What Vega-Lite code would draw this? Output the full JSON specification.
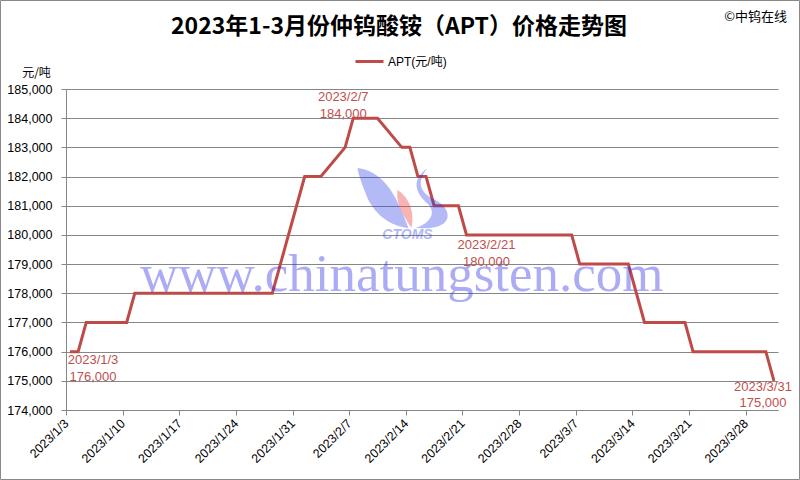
{
  "$schema": "https://vega.github.io/schema/vega-lite/v6.json",
  "width": 712,
  "height": 321,
  "autosize": {"type": "none"},
  "padding": {"left": 66, "top": 89, "right": 22, "bottom": 70},
  "background": "white",
  "title": {
    "text": "2023年1-3月份仲钨酸铵（APT）价格走势图",
    "font": "Noto Sans CJK SC",
    "fontSize": 23,
    "fontWeight": "bold",
    "color": "#000000",
    "anchor": "middle",
    "dx": -23,
    "offset": -39
  },
  "config": {
    "view": {"stroke": null},
    "font": "Liberation Sans, Noto Sans CJK SC",
    "numberFormat": ",.0f",
    "timeFormat": "%Y/%-m/%-d",
    "axis": {
      "labelFontSize": 12.5,
      "labelColor": "#000000",
      "labelOverlap": false,
      "labelFlush": false,
      "domainColor": "#868686",
      "tickColor": "#868686",
      "tickSize": 5,
      "gridColor": "#868686",
      "gridWidth": 1
    },
    "axisX": {
      "labelAngle": -45,
      "labelAlign": "right",
      "labelBaseline": "middle",
      "labelPadding": 6,
      "grid": false
    },
    "axisY": {
      "labelPadding": 9,
      "grid": true,
      "titleAngle": 0,
      "titleX": -30,
      "titleY": -17,
      "titleAlign": "center",
      "titleBaseline": "middle",
      "titleFont": "Noto Sans CJK SC",
      "titleFontWeight": "normal",
      "titleFontSize": 12,
      "titleColor": "#000000"
    }
  },
  "data": {
    "format": {"parse": {"date": "date"}},
    "values": [
      {"date": "2023-01-03T12:00", "price": 176000},
      {"date": "2023-01-04T12:00", "price": 176000},
      {"date": "2023-01-05T12:00", "price": 177000},
      {"date": "2023-01-06T12:00", "price": 177000},
      {"date": "2023-01-09T12:00", "price": 177000},
      {"date": "2023-01-10T12:00", "price": 177000},
      {"date": "2023-01-11T12:00", "price": 178000},
      {"date": "2023-01-12T12:00", "price": 178000},
      {"date": "2023-01-13T12:00", "price": 178000},
      {"date": "2023-01-16T12:00", "price": 178000},
      {"date": "2023-01-17T12:00", "price": 178000},
      {"date": "2023-01-18T12:00", "price": 178000},
      {"date": "2023-01-19T12:00", "price": 178000},
      {"date": "2023-01-20T12:00", "price": 178000},
      {"date": "2023-01-28T12:00", "price": 178000},
      {"date": "2023-01-29T12:00", "price": 179000},
      {"date": "2023-01-30T12:00", "price": 180000},
      {"date": "2023-01-31T12:00", "price": 181000},
      {"date": "2023-02-01T12:00", "price": 182000},
      {"date": "2023-02-02T12:00", "price": 182000},
      {"date": "2023-02-03T12:00", "price": 182000},
      {"date": "2023-02-06T12:00", "price": 183000},
      {"date": "2023-02-07T12:00", "price": 184000},
      {"date": "2023-02-08T12:00", "price": 184000},
      {"date": "2023-02-09T12:00", "price": 184000},
      {"date": "2023-02-10T12:00", "price": 184000},
      {"date": "2023-02-13T12:00", "price": 183000},
      {"date": "2023-02-14T12:00", "price": 183000},
      {"date": "2023-02-15T12:00", "price": 182000},
      {"date": "2023-02-16T12:00", "price": 182000},
      {"date": "2023-02-17T12:00", "price": 181000},
      {"date": "2023-02-20T12:00", "price": 181000},
      {"date": "2023-02-21T12:00", "price": 180000},
      {"date": "2023-02-22T12:00", "price": 180000},
      {"date": "2023-02-23T12:00", "price": 180000},
      {"date": "2023-02-24T12:00", "price": 180000},
      {"date": "2023-02-27T12:00", "price": 180000},
      {"date": "2023-02-28T12:00", "price": 180000},
      {"date": "2023-03-01T12:00", "price": 180000},
      {"date": "2023-03-02T12:00", "price": 180000},
      {"date": "2023-03-03T12:00", "price": 180000},
      {"date": "2023-03-06T12:00", "price": 180000},
      {"date": "2023-03-07T12:00", "price": 179000},
      {"date": "2023-03-08T12:00", "price": 179000},
      {"date": "2023-03-09T12:00", "price": 179000},
      {"date": "2023-03-10T12:00", "price": 179000},
      {"date": "2023-03-13T12:00", "price": 179000},
      {"date": "2023-03-14T12:00", "price": 178000},
      {"date": "2023-03-15T12:00", "price": 177000},
      {"date": "2023-03-16T12:00", "price": 177000},
      {"date": "2023-03-17T12:00", "price": 177000},
      {"date": "2023-03-20T12:00", "price": 177000},
      {"date": "2023-03-21T12:00", "price": 176000},
      {"date": "2023-03-22T12:00", "price": 176000},
      {"date": "2023-03-23T12:00", "price": 176000},
      {"date": "2023-03-24T12:00", "price": 176000},
      {"date": "2023-03-27T12:00", "price": 176000},
      {"date": "2023-03-28T12:00", "price": 176000},
      {"date": "2023-03-29T12:00", "price": 176000},
      {"date": "2023-03-30T12:00", "price": 176000},
      {"date": "2023-03-31T12:00", "price": 175000}
    ]
  },
  "transform": [
    {"calculate": "timeFormat(datum.date, '%Y/%-m/%-d') + '\\n' + format(datum.price, ',')", "as": "label"}
  ],
  "layer": [
    {
      "data": {"values": [{}]},
      "mark": {"type": "rect", "x": -65.5, "y": -88.5, "x2": {"expr": "width + 21.5"}, "y2": {"expr": "height + 69.5"}, "fill": "transparent", "stroke": "#898989", "strokeWidth": 1},
      "encoding": {}
    },
    {
      "mark": {"type": "line", "strokeWidth": 3, "color": "#BE4B48"},
      "encoding": {
        "x": {
          "field": "date",
          "type": "temporal",
          "scale": {"domain": [{"year": 2023, "month": 1, "date": 3}, {"year": 2023, "month": 4, "date": 1}]},
          "axis": {"title": null, "format": "%Y/%-m/%-d", "values": [{"year": 2023, "month": 1, "date": 3}, {"year": 2023, "month": 1, "date": 10}, {"year": 2023, "month": 1, "date": 17}, {"year": 2023, "month": 1, "date": 24}, {"year": 2023, "month": 1, "date": 31}, {"year": 2023, "month": 2, "date": 7}, {"year": 2023, "month": 2, "date": 14}, {"year": 2023, "month": 2, "date": 21}, {"year": 2023, "month": 2, "date": 28}, {"year": 2023, "month": 3, "date": 7}, {"year": 2023, "month": 3, "date": 14}, {"year": 2023, "month": 3, "date": 21}, {"year": 2023, "month": 3, "date": 28}]}
        },
        "y": {
          "field": "price",
          "type": "quantitative",
          "scale": {"domain": [174000, 185000], "nice": false, "zero": false},
          "axis": {"title": "元/吨", "format": ",.0f", "values": [174000, 175000, 176000, 177000, 178000, 179000, 180000, 181000, 182000, 183000, 184000, 185000]}
        },
        "color": {
          "datum": "APT(元/吨)",
          "type": "nominal",
          "scale": {"range": ["#BE4B48"]},
          "legend": {
            "orient": "none",
            "legendX": 288,
            "legendY": -43,
            "title": null,
            "padding": 0,
            "symbolType": "stroke",
            "symbolStrokeWidth": 3,
            "symbolSize": 784,
            "labelFontSize": 12,
            "labelColor": "#000000",
            "labelFont": "Liberation Sans, Noto Sans CJK SC",
            "labelOffset": 3
          }
        }
      }
    },
    {
      "data": {"values": [{}]},
      "mark": {"type": "point", "shape": "M -0.96 -0.6 C -0.6 -0.56 -0.36 -0.3 -0.2 0 C -0.08 0.24 0 0.44 0.06 0.6 C -0.4 0.56 -0.7 0.2 -0.8 -0.1 C -0.88 -0.3 -0.94 -0.48 -0.96 -0.6 Z", "size": 10000, "filled": true, "color": "#2838e6", "opacity": 0.35, "strokeWidth": 0},
      "encoding": {
        "x": {"datum": {"year": 2023, "month": 2, "date": 13, "hours": 23}, "type": "temporal", "axis": {"title": null, "format": "%Y/%-m/%-d", "values": [{"year": 2023, "month": 1, "date": 3}, {"year": 2023, "month": 1, "date": 10}, {"year": 2023, "month": 1, "date": 17}, {"year": 2023, "month": 1, "date": 24}, {"year": 2023, "month": 1, "date": 31}, {"year": 2023, "month": 2, "date": 7}, {"year": 2023, "month": 2, "date": 14}, {"year": 2023, "month": 2, "date": 21}, {"year": 2023, "month": 2, "date": 28}, {"year": 2023, "month": 3, "date": 7}, {"year": 2023, "month": 3, "date": 14}, {"year": 2023, "month": 3, "date": 21}, {"year": 2023, "month": 3, "date": 28}]}},
        "y": {"datum": 181267, "type": "quantitative", "axis": {"title": "元/吨", "format": ",.0f", "values": [174000, 175000, 176000, 177000, 178000, 179000, 180000, 181000, 182000, 183000, 184000, 185000]}}
      }
    },
    {
      "data": {"values": [{}]},
      "mark": {"type": "point", "shape": "M -0.16 -0.16 C 0.04 -0.04 0.2 0.24 0.12 0.6 C 0 0.4 -0.2 0.16 -0.16 -0.16 Z", "size": 10000, "filled": true, "color": "#ee4444", "opacity": 0.4, "strokeWidth": 0},
      "encoding": {
        "x": {"datum": {"year": 2023, "month": 2, "date": 13, "hours": 23}, "type": "temporal", "axis": {"title": null, "format": "%Y/%-m/%-d", "values": [{"year": 2023, "month": 1, "date": 3}, {"year": 2023, "month": 1, "date": 10}, {"year": 2023, "month": 1, "date": 17}, {"year": 2023, "month": 1, "date": 24}, {"year": 2023, "month": 1, "date": 31}, {"year": 2023, "month": 2, "date": 7}, {"year": 2023, "month": 2, "date": 14}, {"year": 2023, "month": 2, "date": 21}, {"year": 2023, "month": 2, "date": 28}, {"year": 2023, "month": 3, "date": 7}, {"year": 2023, "month": 3, "date": 14}, {"year": 2023, "month": 3, "date": 21}, {"year": 2023, "month": 3, "date": 28}]}},
        "y": {"datum": 181267, "type": "quantitative", "axis": {"title": "元/吨", "format": ",.0f", "values": [174000, 175000, 176000, 177000, 178000, 179000, 180000, 181000, 182000, 183000, 184000, 185000]}}
      }
    },
    {
      "data": {"values": [{}]},
      "mark": {"type": "point", "shape": "M 0.44 -0.6 C 0.2 -0.3 0.3 -0.1 0.6 0.04 C 0.9 0.2 0.95 0.5 0.6 0.58 C 0.45 0.62 0.3 0.6 0.2 0.6 C 0.5 0.5 0.62 0.3 0.45 0.12 C 0.2 -0.1 0.1 -0.35 0.44 -0.6 Z", "size": 10000, "filled": true, "color": "#2838e6", "opacity": 0.35, "strokeWidth": 0},
      "encoding": {
        "x": {"datum": {"year": 2023, "month": 2, "date": 13, "hours": 23}, "type": "temporal", "axis": {"title": null, "format": "%Y/%-m/%-d", "values": [{"year": 2023, "month": 1, "date": 3}, {"year": 2023, "month": 1, "date": 10}, {"year": 2023, "month": 1, "date": 17}, {"year": 2023, "month": 1, "date": 24}, {"year": 2023, "month": 1, "date": 31}, {"year": 2023, "month": 2, "date": 7}, {"year": 2023, "month": 2, "date": 14}, {"year": 2023, "month": 2, "date": 21}, {"year": 2023, "month": 2, "date": 28}, {"year": 2023, "month": 3, "date": 7}, {"year": 2023, "month": 3, "date": 14}, {"year": 2023, "month": 3, "date": 21}, {"year": 2023, "month": 3, "date": 28}]}},
        "y": {"datum": 181267, "type": "quantitative", "axis": {"title": "元/吨", "format": ",.0f", "values": [174000, 175000, 176000, 177000, 178000, 179000, 180000, 181000, 182000, 183000, 184000, 185000]}}
      }
    },
    {
      "data": {"values": [{}]},
      "mark": {"type": "text", "text": "CTOMS", "font": "Liberation Sans", "fontSize": 14, "fontWeight": "bold", "fontStyle": "italic", "color": "#2838e6", "opacity": 0.35, "align": "center", "baseline": "middle"},
      "encoding": {
        "x": {"datum": {"year": 2023, "month": 2, "date": 14, "hours": 5}, "type": "temporal", "axis": {"title": null, "format": "%Y/%-m/%-d", "values": [{"year": 2023, "month": 1, "date": 3}, {"year": 2023, "month": 1, "date": 10}, {"year": 2023, "month": 1, "date": 17}, {"year": 2023, "month": 1, "date": 24}, {"year": 2023, "month": 1, "date": 31}, {"year": 2023, "month": 2, "date": 7}, {"year": 2023, "month": 2, "date": 14}, {"year": 2023, "month": 2, "date": 21}, {"year": 2023, "month": 2, "date": 28}, {"year": 2023, "month": 3, "date": 7}, {"year": 2023, "month": 3, "date": 14}, {"year": 2023, "month": 3, "date": 21}, {"year": 2023, "month": 3, "date": 28}]}},
        "y": {"datum": 180000, "type": "quantitative", "axis": {"title": "元/吨", "format": ",.0f", "values": [174000, 175000, 176000, 177000, 178000, 179000, 180000, 181000, 182000, 183000, 184000, 185000]}}
      }
    },
    {
      "data": {"values": [{}]},
      "mark": {"type": "text", "text": "www.chinatungsten.com", "font": "Liberation Serif", "fontSize": 53, "color": "#2828e6", "opacity": 0.38, "align": "center", "baseline": "alphabetic"},
      "encoding": {
        "x": {"datum": {"year": 2023, "month": 2, "date": 13, "hours": 12}, "type": "temporal", "axis": {"title": null, "format": "%Y/%-m/%-d", "values": [{"year": 2023, "month": 1, "date": 3}, {"year": 2023, "month": 1, "date": 10}, {"year": 2023, "month": 1, "date": 17}, {"year": 2023, "month": 1, "date": 24}, {"year": 2023, "month": 1, "date": 31}, {"year": 2023, "month": 2, "date": 7}, {"year": 2023, "month": 2, "date": 14}, {"year": 2023, "month": 2, "date": 21}, {"year": 2023, "month": 2, "date": 28}, {"year": 2023, "month": 3, "date": 7}, {"year": 2023, "month": 3, "date": 14}, {"year": 2023, "month": 3, "date": 21}, {"year": 2023, "month": 3, "date": 28}]}},
        "y": {"datum": 178080, "type": "quantitative", "axis": {"title": "元/吨", "format": ",.0f", "values": [174000, 175000, 176000, 177000, 178000, 179000, 180000, 181000, 182000, 183000, 184000, 185000]}}
      }
    },
    {
      "data": {"values": [{}]},
      "mark": {"type": "text", "text": "©中钨在线", "font": "Noto Sans CJK SC", "fontSize": 13, "color": "#000000", "align": "right", "baseline": "middle", "dx": 9, "dy": -72},
      "encoding": {
        "x": {"datum": {"year": 2023, "month": 4, "date": 1}, "type": "temporal", "axis": {"title": null, "format": "%Y/%-m/%-d", "values": [{"year": 2023, "month": 1, "date": 3}, {"year": 2023, "month": 1, "date": 10}, {"year": 2023, "month": 1, "date": 17}, {"year": 2023, "month": 1, "date": 24}, {"year": 2023, "month": 1, "date": 31}, {"year": 2023, "month": 2, "date": 7}, {"year": 2023, "month": 2, "date": 14}, {"year": 2023, "month": 2, "date": 21}, {"year": 2023, "month": 2, "date": 28}, {"year": 2023, "month": 3, "date": 7}, {"year": 2023, "month": 3, "date": 14}, {"year": 2023, "month": 3, "date": 21}, {"year": 2023, "month": 3, "date": 28}]}},
        "y": {"datum": 185000, "type": "quantitative", "axis": {"title": "元/吨", "format": ",.0f", "values": [174000, 175000, 176000, 177000, 178000, 179000, 180000, 181000, 182000, 183000, 184000, 185000]}}
      }
    },
    {
      "transform": [{"filter": "month(datum.date) == 0 && date(datum.date) == 3"}],
      "mark": {"type": "text", "lineBreak": "\n", "lineHeight": 17, "align": "center", "baseline": "middle", "dx": 23, "dy": 8.2, "fontSize": 13, "color": "#C0504D"},
      "encoding": {
        "x": {"field": "date", "type": "temporal", "axis": {"title": null, "format": "%Y/%-m/%-d", "values": [{"year": 2023, "month": 1, "date": 3}, {"year": 2023, "month": 1, "date": 10}, {"year": 2023, "month": 1, "date": 17}, {"year": 2023, "month": 1, "date": 24}, {"year": 2023, "month": 1, "date": 31}, {"year": 2023, "month": 2, "date": 7}, {"year": 2023, "month": 2, "date": 14}, {"year": 2023, "month": 2, "date": 21}, {"year": 2023, "month": 2, "date": 28}, {"year": 2023, "month": 3, "date": 7}, {"year": 2023, "month": 3, "date": 14}, {"year": 2023, "month": 3, "date": 21}, {"year": 2023, "month": 3, "date": 28}]}},
        "y": {"field": "price", "type": "quantitative", "axis": {"title": "元/吨", "format": ",.0f", "values": [174000, 175000, 176000, 177000, 178000, 179000, 180000, 181000, 182000, 183000, 184000, 185000]}},
        "text": {"field": "label"}
      }
    },
    {
      "transform": [{"filter": "month(datum.date) == 1 && date(datum.date) == 7"}],
      "mark": {"type": "text", "lineBreak": "\n", "lineHeight": 17, "align": "center", "baseline": "middle", "dx": -10, "dy": -21.5, "fontSize": 13, "color": "#C0504D"},
      "encoding": {
        "x": {"field": "date", "type": "temporal", "axis": {"title": null, "format": "%Y/%-m/%-d", "values": [{"year": 2023, "month": 1, "date": 3}, {"year": 2023, "month": 1, "date": 10}, {"year": 2023, "month": 1, "date": 17}, {"year": 2023, "month": 1, "date": 24}, {"year": 2023, "month": 1, "date": 31}, {"year": 2023, "month": 2, "date": 7}, {"year": 2023, "month": 2, "date": 14}, {"year": 2023, "month": 2, "date": 21}, {"year": 2023, "month": 2, "date": 28}, {"year": 2023, "month": 3, "date": 7}, {"year": 2023, "month": 3, "date": 14}, {"year": 2023, "month": 3, "date": 21}, {"year": 2023, "month": 3, "date": 28}]}},
        "y": {"field": "price", "type": "quantitative", "axis": {"title": "元/吨", "format": ",.0f", "values": [174000, 175000, 176000, 177000, 178000, 179000, 180000, 181000, 182000, 183000, 184000, 185000]}},
        "text": {"field": "label"}
      }
    },
    {
      "transform": [{"filter": "month(datum.date) == 1 && date(datum.date) == 21"}],
      "mark": {"type": "text", "lineBreak": "\n", "lineHeight": 17, "align": "center", "baseline": "middle", "dx": 20, "dy": 10, "fontSize": 13, "color": "#C0504D"},
      "encoding": {
        "x": {"field": "date", "type": "temporal", "axis": {"title": null, "format": "%Y/%-m/%-d", "values": [{"year": 2023, "month": 1, "date": 3}, {"year": 2023, "month": 1, "date": 10}, {"year": 2023, "month": 1, "date": 17}, {"year": 2023, "month": 1, "date": 24}, {"year": 2023, "month": 1, "date": 31}, {"year": 2023, "month": 2, "date": 7}, {"year": 2023, "month": 2, "date": 14}, {"year": 2023, "month": 2, "date": 21}, {"year": 2023, "month": 2, "date": 28}, {"year": 2023, "month": 3, "date": 7}, {"year": 2023, "month": 3, "date": 14}, {"year": 2023, "month": 3, "date": 21}, {"year": 2023, "month": 3, "date": 28}]}},
        "y": {"field": "price", "type": "quantitative", "axis": {"title": "元/吨", "format": ",.0f", "values": [174000, 175000, 176000, 177000, 178000, 179000, 180000, 181000, 182000, 183000, 184000, 185000]}},
        "text": {"field": "label"}
      }
    },
    {
      "transform": [{"filter": "month(datum.date) == 2 && date(datum.date) == 31"}],
      "mark": {"type": "text", "lineBreak": "\n", "lineHeight": 16, "align": "center", "baseline": "middle", "dx": -11, "dy": 5.7, "fontSize": 13, "color": "#C0504D"},
      "encoding": {
        "x": {"field": "date", "type": "temporal", "axis": {"title": null, "format": "%Y/%-m/%-d", "values": [{"year": 2023, "month": 1, "date": 3}, {"year": 2023, "month": 1, "date": 10}, {"year": 2023, "month": 1, "date": 17}, {"year": 2023, "month": 1, "date": 24}, {"year": 2023, "month": 1, "date": 31}, {"year": 2023, "month": 2, "date": 7}, {"year": 2023, "month": 2, "date": 14}, {"year": 2023, "month": 2, "date": 21}, {"year": 2023, "month": 2, "date": 28}, {"year": 2023, "month": 3, "date": 7}, {"year": 2023, "month": 3, "date": 14}, {"year": 2023, "month": 3, "date": 21}, {"year": 2023, "month": 3, "date": 28}]}},
        "y": {"field": "price", "type": "quantitative", "axis": {"title": "元/吨", "format": ",.0f", "values": [174000, 175000, 176000, 177000, 178000, 179000, 180000, 181000, 182000, 183000, 184000, 185000]}},
        "text": {"field": "label"}
      }
    }
  ]
}
